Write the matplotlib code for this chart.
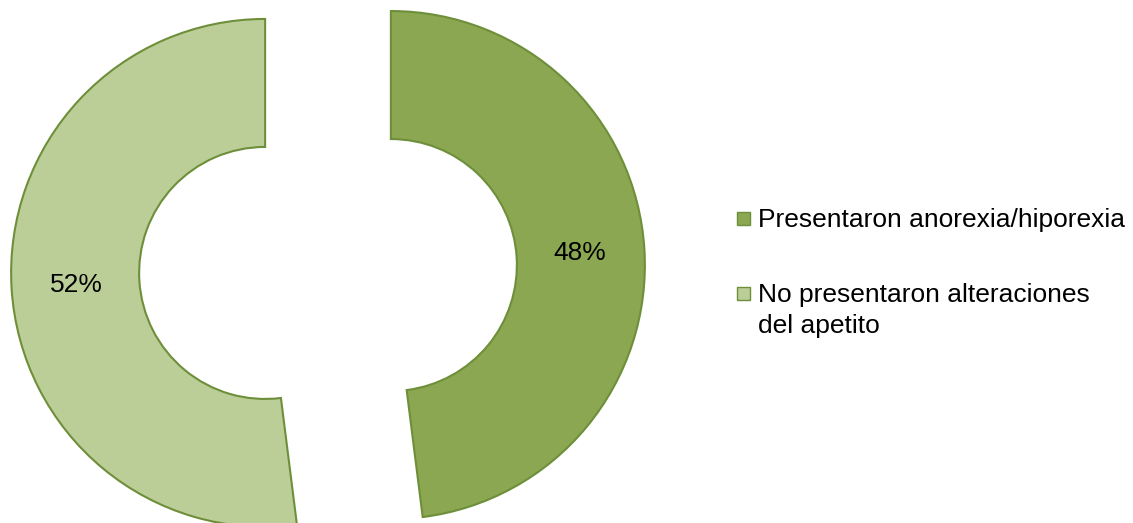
import matplotlib
matplotlib.use("Agg")
import matplotlib.pyplot as plt
from matplotlib.patches import Rectangle

plt.rcParams['font.family'] = ['Liberation Sans', 'DejaVu Sans']

# Appetite changes data
labels = ['Presentaron anorexia/hiporexia',
          'No presentaron alteraciones\ndel apetito']
values = [48, 52]
colors = ['#8BA752', '#BBCE98']
edge = '#6E8F3A'

W, H = 1133, 523
fig = plt.figure(figsize=(W / 100, H / 100), dpi=100)
ax = fig.add_axes([0, 0, 1, 1])

# axes in pixel units so radius / explode / width are easy to set
radius = 254
ax.pie(values, colors=colors, startangle=90, counterclock=False,
       center=(328, H - 269), radius=radius, explode=[63, 63],
       autopct='%1.0f%%', pctdistance=0.745,
       wedgeprops=dict(width=128, edgecolor=edge, linewidth=1.5),
       textprops=dict(fontsize=19, color='black'))
ax.set_xlim(0, W)
ax.set_ylim(0, H)
ax.set_aspect('equal')
ax.axis('off')

# legend drawn by hand so the marker lines up with the first text line
tops = [208, 283]
for lab, col, top in zip(labels, colors, tops):
    ax.add_patch(Rectangle((737, H - top - 17), 13, 13, facecolor=col,
                           edgecolor=edge, linewidth=1.0))
    ax.text(758, H - top, lab, fontsize=19, va='top', ha='left',
            linespacing=1.38)

fig.savefig('out.png', dpi=100)
